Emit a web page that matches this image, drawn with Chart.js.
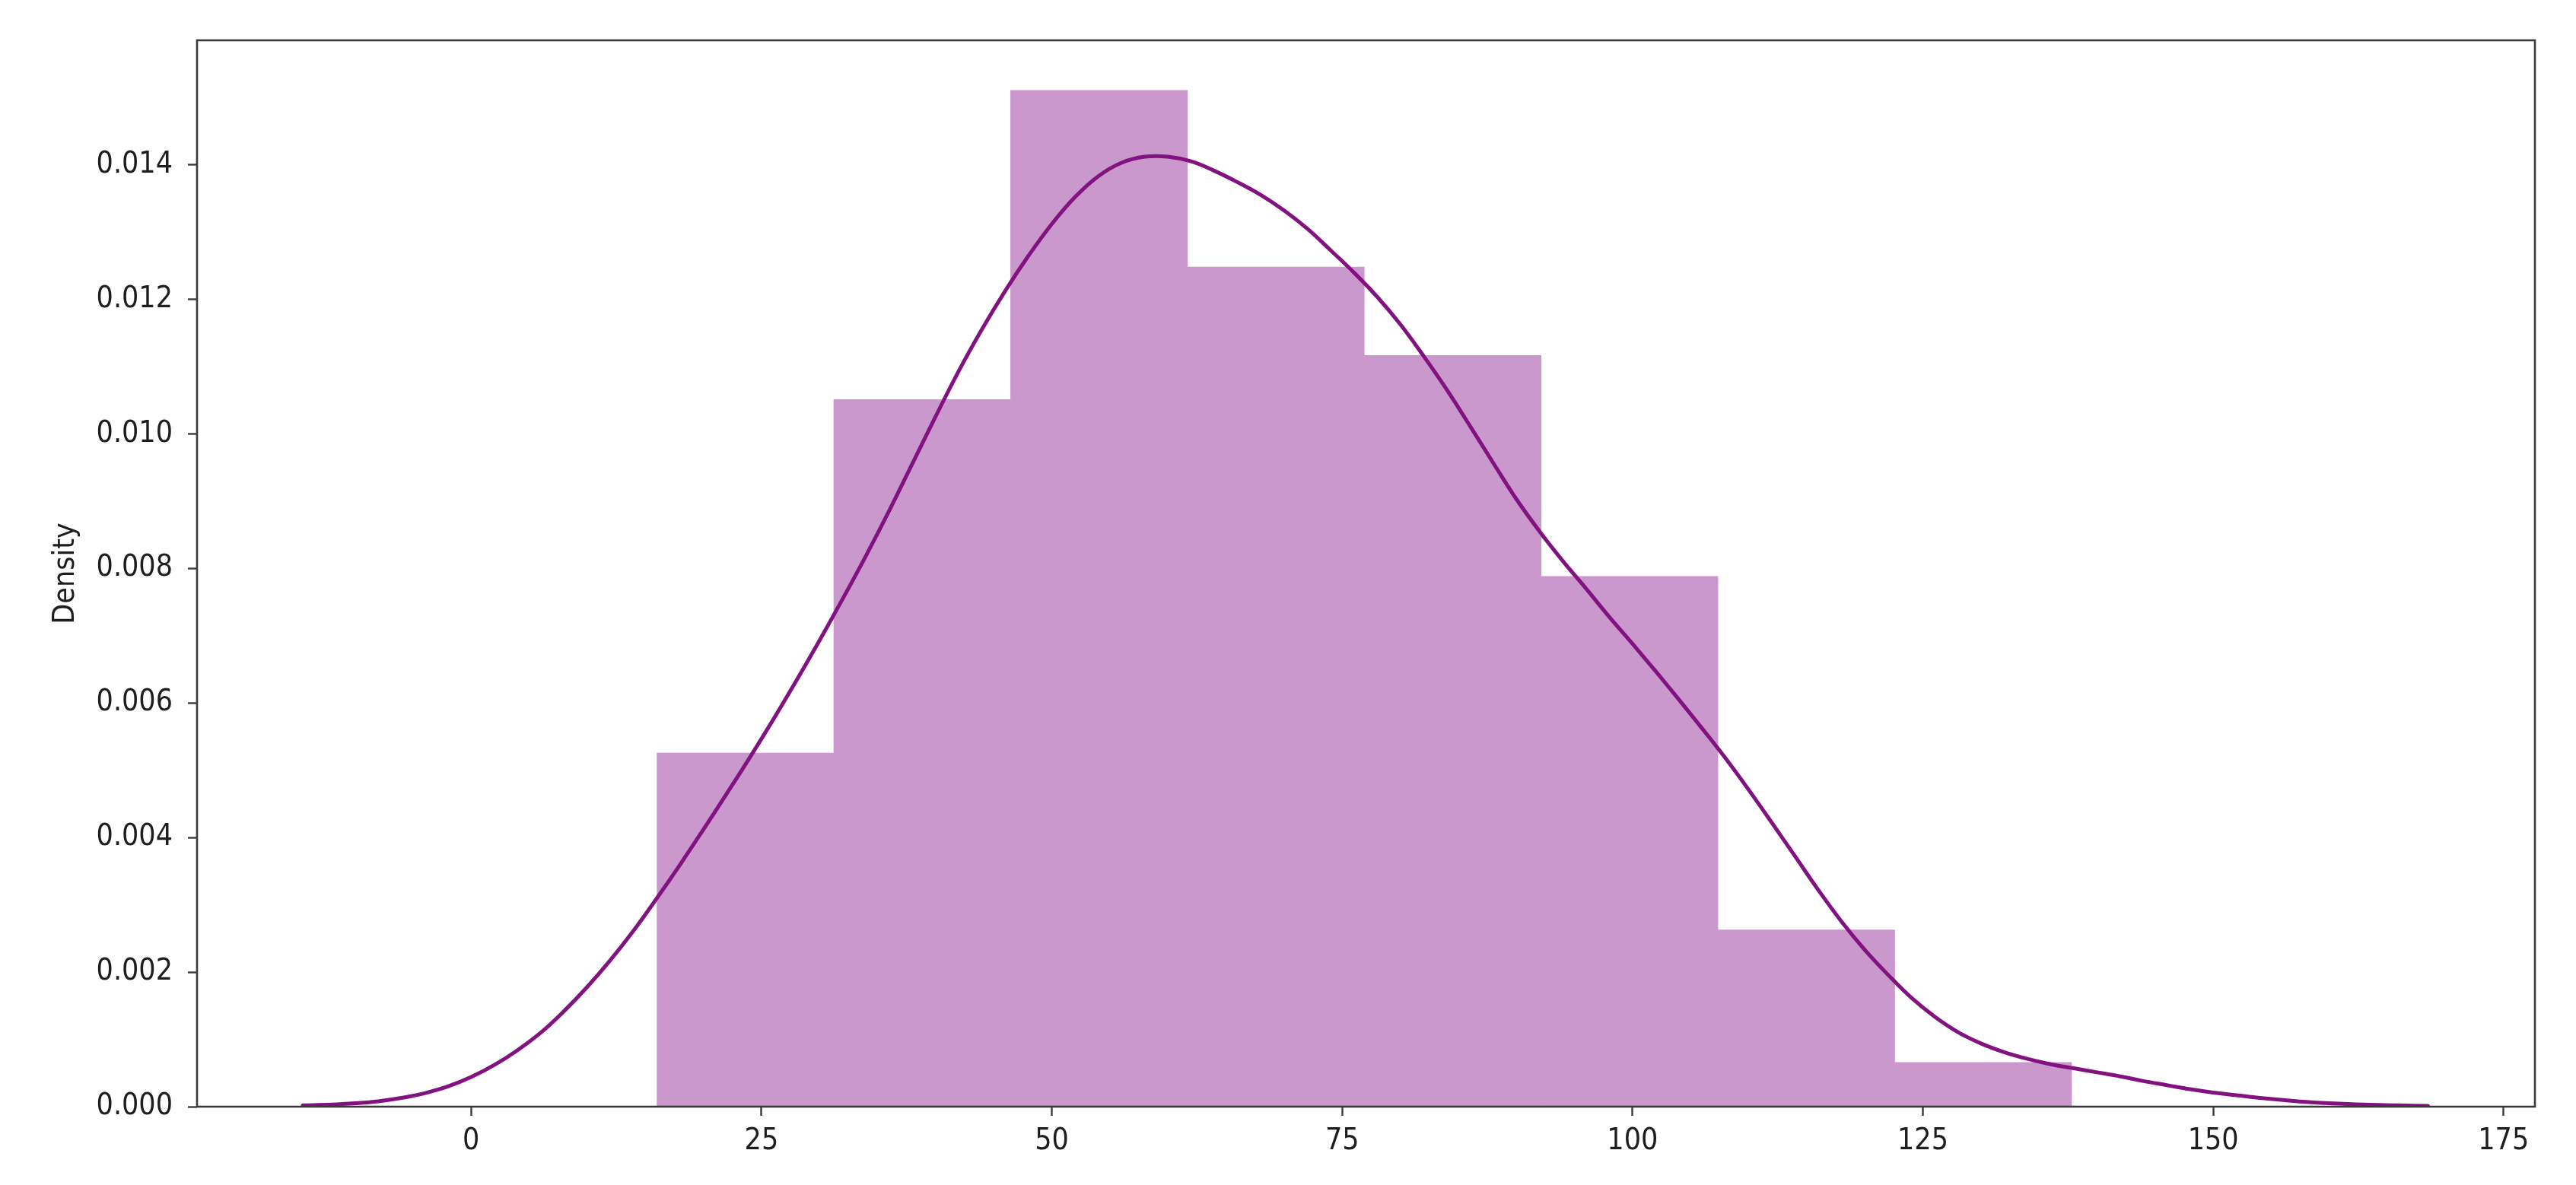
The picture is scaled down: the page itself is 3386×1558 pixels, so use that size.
<!DOCTYPE html>
<html>
<head>
<meta charset="utf-8">
<script src="https://cdn.jsdelivr.net/npm/chart.js@4.4.1/dist/chart.umd.min.js"></script>
<style>
html,body{margin:0;padding:0;background:#fff;}
#wrap{width:3386px;height:1558px;}
</style>
</head>
<body>
<div id="wrap"><canvas id="c" width="3386" height="1558"></canvas></div>
<script>
// Histogram bins (edges) and density heights
const binEdges = [16, 31.23, 46.45, 61.68, 76.9, 92.13, 107.35, 122.58, 137.8];
const binDensity = [0.005255, 0.010509, 0.015107, 0.012479, 0.011166, 0.007882, 0.002627, 0.000657];

// KDE curve
const kdeX = [-14.5, -12, -10, -8, -6, -4, -2, 0, 2, 4, 6, 8, 10, 12, 14, 16, 18, 20, 22, 24, 26, 28, 30, 32, 34, 36, 38, 40, 42, 44, 46, 48, 50, 52, 54, 56, 58, 60, 62, 64, 66, 68, 70, 72, 74, 76, 78, 80, 82, 84, 86, 88, 90, 92, 94, 96, 98, 100, 102, 104, 106, 108, 110, 112, 114, 116, 118, 120, 122, 124, 126, 128, 130, 132, 134, 136, 138, 140, 142, 144, 146, 148, 150, 152, 154, 156, 158, 160, 163, 166, 168.5];
const kdeY = [0.00002, 0.00003, 0.00005, 0.00008, 0.00013, 0.00020, 0.00030, 0.00044, 0.00062, 0.00084, 0.00110, 0.00142, 0.00178, 0.00218, 0.00262, 0.00310, 0.00360, 0.00412, 0.00465, 0.00519, 0.00575, 0.00633, 0.00693, 0.00755, 0.00819, 0.00886, 0.00956, 0.01026, 0.01094, 0.01156, 0.01213, 0.01265, 0.01312, 0.01352, 0.01383, 0.01403, 0.01412, 0.01412, 0.01405, 0.01391, 0.01374, 0.01355, 0.01332, 0.01305, 0.01273, 0.01240, 0.01204, 0.01163, 0.01116, 0.01066, 0.01012, 0.00957, 0.00903, 0.00855, 0.00811, 0.00770, 0.00728, 0.00688, 0.00647, 0.00605, 0.00562, 0.00518, 0.00471, 0.00422, 0.00372, 0.00322, 0.00275, 0.00233, 0.00196, 0.00162, 0.00134, 0.00111, 0.00094, 0.00081, 0.00071, 0.00063, 0.00057, 0.00051, 0.00045, 0.00038, 0.00032, 0.00026, 0.00021, 0.00017, 0.00013, 0.00010, 0.00007, 0.00005, 0.00003, 0.00002, 0.00001];

// Axes
const xTicks = [0, 25, 50, 75, 100, 125, 150, 175];
const yTicks = [0, 0.002, 0.004, 0.006, 0.008, 0.010, 0.012, 0.014];
const xRange = [-23.6, 177.7];
const yRange = [0, 0.01585];
const yTitle = 'Density';

const FONT = '"DejaVu Sans Condensed", "DejaVu Sans", sans-serif';
const FS = 39;
const TXT = '#1e1e1e';
const AX = '#3a3a3a';

const barData = binDensity.map((d, i) => ({x: (binEdges[i] + binEdges[i + 1]) / 2, y: d}));
const kdeData = kdeX.map((x, i) => ({x: x, y: kdeY[i]}));

const framePlugin = {
  id: 'frame',
  afterDatasetsDraw(chart) {
    const {ctx, chartArea: a} = chart;
    ctx.save();
    ctx.strokeStyle = AX;
    ctx.lineWidth = 2.6;
    ctx.strokeRect(a.left, a.top, a.right - a.left, a.bottom - a.top);
    ctx.restore();
  }
};

new Chart(document.getElementById('c'), {
  type: 'bar',
  data: {
    datasets: [
      {
        type: 'line',
        data: kdeData,
        borderColor: '#82127f',
        borderWidth: 5,
        pointRadius: 0,
        fill: false,
        tension: 0.4,
        borderJoinStyle: 'round',
        borderCapStyle: 'round',
        order: 0
      },
      {
        type: 'bar',
        data: barData,
        backgroundColor: 'rgb(202,152,204)',
        borderWidth: 0,
        barPercentage: 1,
        categoryPercentage: 1,
        order: 1
      }
    ]
  },
  options: {
    responsive: false,
    devicePixelRatio: 1,
    animation: false,
    layout: {padding: {top: 53, right: 54, left: 0, bottom: 0}},
    plugins: {legend: {display: false}, tooltip: {enabled: false}},
    scales: {
      x: {
        type: 'linear',
        min: xRange[0],
        max: xRange[1],
        offset: false,
        grid: {display: true, drawOnChartArea: false, drawTicks: true, tickLength: 12, tickColor: AX, tickWidth: 2.4, offset: false},
        border: {display: false},
        ticks: {font: {family: FONT, size: FS}, color: TXT, padding: 10, maxRotation: 0, autoSkip: false},
        afterBuildTicks(scale) { scale.ticks = xTicks.map(v => ({value: v})); },
        afterFit(scale) { scale.height = 103; }
      },
      y: {
        type: 'linear',
        min: yRange[0],
        max: yRange[1],
        grid: {display: true, drawOnChartArea: false, drawTicks: true, tickLength: 12, tickColor: AX, tickWidth: 2.4},
        border: {display: false},
        ticks: {font: {family: FONT, size: FS}, color: TXT, padding: 20, callback: v => v.toFixed(3)},
        title: {display: true, text: yTitle, font: {family: FONT, size: FS}, color: TXT, padding: {top: 63, bottom: 0}},
        afterBuildTicks(scale) { scale.ticks = yTicks.map(v => ({value: v})); },
        afterFit(scale) { scale.width = 259; }
      }
    }
  },
  plugins: [framePlugin]
});
</script>
</body>
</html>
